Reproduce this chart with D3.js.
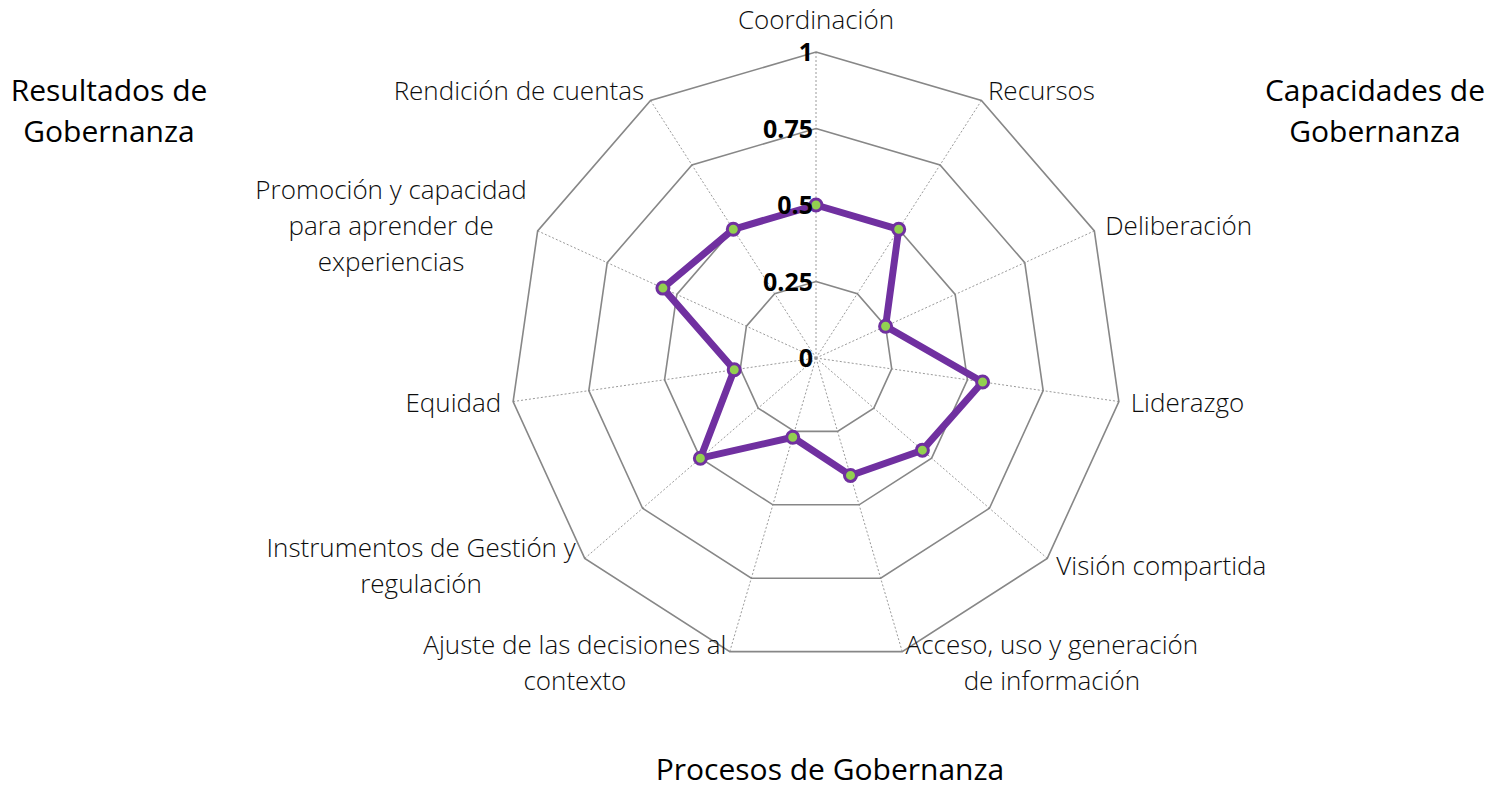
<!DOCTYPE html>
<html lang="es">
<head>
<meta charset="utf-8" />
<title>Radar de Gobernanza</title>
<style>
  body { margin: 0; background: #fff; }
  svg { font-family: "Open Sans", "Noto Sans", sans-serif; }
  .cat { font-size: 26px; font-weight: 300; fill: #0d0d0d; }
  .title { font-size: 30px; font-weight: 400; fill: #000; }
  .tick { font-size: 25px; font-weight: 700; fill: #000; }
  .ring { fill: none; stroke: #878787; stroke-width: 1.6px; }
  .spoke { stroke: #9a9a9a; stroke-width: 1px; stroke-dasharray: 2,2; }
  .series { fill: none; stroke: #7030a0; stroke-width: 7px; stroke-linejoin: round; }
  .dot { fill: #92d050; stroke: #7030a0; stroke-width: 3px; }
</style>
</head>
<body>
<script src="https://cdn.jsdelivr.net/npm/d3@7"></script>
<script>
  // categories, clockwise from the top
  const categories = [
    "Coordinación",
    "Recursos",
    "Deliberación",
    "Liderazgo",
    "Visión compartida",
    "Acceso, uso y generación\nde información",
    "Ajuste de las decisiones al\ncontexto",
    "Instrumentos de Gestión y\nregulación",
    "Equidad",
    "Promoción y capacidad\npara aprender de\nexperiencias",
    "Rendición de cuentas"
  ];
  const values = [0.5, 0.5, 0.25, 0.55, 0.46, 0.4, 0.27, 0.5, 0.27, 0.55, 0.5];
  const ticks = [0, 0.25, 0.5, 0.75, 1];
  const tickLabels = ["0", "0.25", "0.5", "0.75", "1"];
  const groupTitles = [
    { text: ["Resultados de", "Gobernanza"], pos: "left" },
    { text: ["Capacidades de", "Gobernanza"], pos: "right" },
    { text: ["Procesos de Gobernanza"], pos: "bottom" }
  ];

  const width = 1494, height = 787;
  const cx = 816, cy = 358, R = 306;
  const n = categories.length;

  const svg = d3.select("body").append("svg")
    .attr("width", width)
    .attr("height", height);

  const r = d3.scaleLinear().domain([0, 1]).range([0, R]);
  const angle = d3.scaleLinear().domain([0, n]).range([0, 2 * Math.PI]);

  const g = svg.append("g").attr("transform", `translate(${cx},${cy})`);

  // spokes
  g.selectAll("line.spoke")
    .data(categories)
    .join("line")
    .attr("class", "spoke")
    .attr("x1", 0).attr("y1", 0)
    .attr("x2", (d, i) => r(1) * Math.sin(angle(i)))
    .attr("y2", (d, i) => -r(1) * Math.cos(angle(i)));

  // rings
  const ringLine = d3.lineRadial()
    .angle((d, i) => angle(i))
    .curve(d3.curveLinearClosed);

  g.selectAll("path.ring")
    .data(ticks.filter(t => t > 0))
    .join("path")
    .attr("class", "ring")
    .attr("d", t => ringLine.radius(r(t))(categories));

  // series
  const seriesLine = d3.lineRadial()
    .angle((d, i) => angle(i))
    .radius(d => r(d))
    .curve(d3.curveLinearClosed);

  g.append("path")
    .datum(values)
    .attr("class", "series")
    .attr("d", seriesLine);

  g.selectAll("circle.dot")
    .data(values)
    .join("circle")
    .attr("class", "dot")
    .attr("r", 6)
    .attr("cx", (d, i) => r(d) * Math.sin(angle(i)))
    .attr("cy", (d, i) => -r(d) * Math.cos(angle(i)));

  // tick labels along the top axis
  g.selectAll("text.tick")
    .data(ticks)
    .join("text")
    .attr("class", "tick")
    .attr("x", -3)
    .attr("y", t => -r(t))
    .attr("dy", "0.36em")
    .attr("text-anchor", "end")
    .text((t, i) => tickLabels[i]);

  // category labels
  const lineH = 36;
  categories.forEach((c, i) => {
    const lines = c.split("\n");
    const a = angle(i);
    const s = Math.sin(a), co = Math.cos(a);
    const px = (R + 12) * s, py = -(R + 12) * co;
    const t = g.append("text").attr("class", "cat");
    const spans = lines.map(l => t.append("tspan").text(l));
    const w = d3.max(spans, sp => sp.node().getComputedTextLength());
    let left;
    if (s > 0.05) left = px;
    else if (s < -0.05) left = px - w;
    else left = px - w / 2;
    let midY = py;
    if (co > 0.95) midY = py - lineH * 0.55;
    const top = midY - lines.length * lineH / 2;
    spans.forEach((sp, k) => {
      sp.attr("x", left + w / 2)
        .attr("y", top + lineH * (k + 0.5))
        .attr("dy", "0.35em")
        .attr("text-anchor", "middle");
    });
  });

  // group titles
  const titleH = 41;
  groupTitles.forEach(gt => {
    let x, y;
    if (gt.pos === "left") { x = 109; y = 90; }
    else if (gt.pos === "right") { x = 1375; y = 90; }
    else { x = 830; y = 769; }
    const t = svg.append("text").attr("class", "title").attr("text-anchor", "middle");
    gt.text.forEach((l, k) => {
      t.append("tspan")
        .attr("x", x)
        .attr("y", y + k * titleH)
        .attr("dy", "0.35em")
        .text(l);
    });
  });
</script>
</body>
</html>
